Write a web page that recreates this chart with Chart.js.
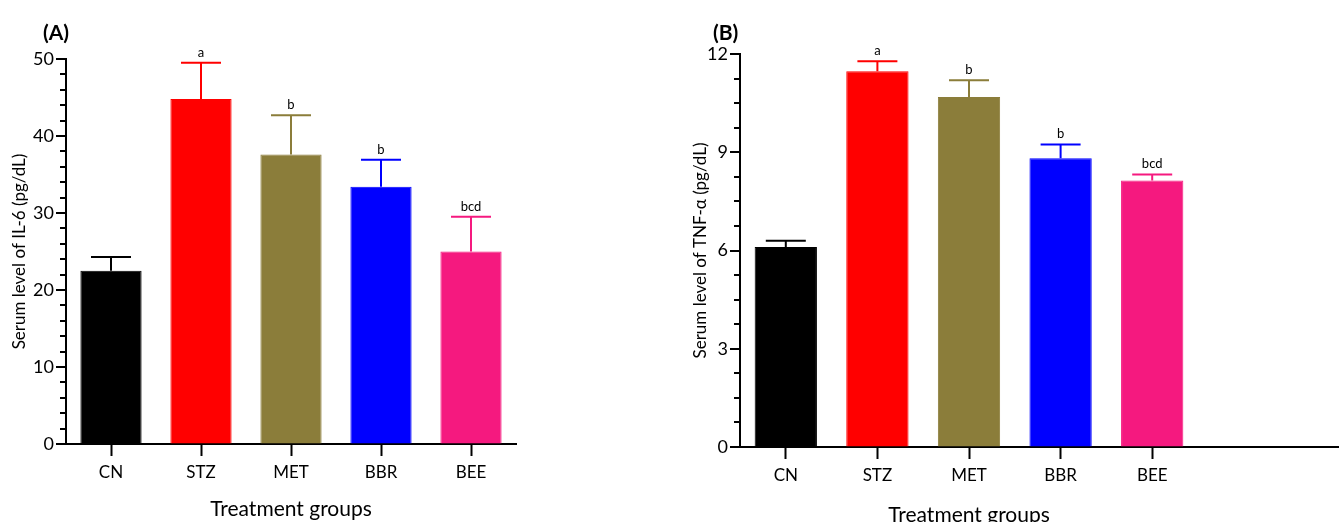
<!DOCTYPE html>
<html>
<head>
<meta charset="utf-8">
<script src="https://cdn.jsdelivr.net/npm/chart.js@4"></script>
<style>
  html, body { margin: 0; padding: 0; background: #fff; }
  #wrapA { position: absolute; left: 0; top: 0; width: 540px; height: 522px; }
  #wrapB { position: absolute; left: 670px; top: 0; width: 669px; height: 522px; }
</style>
</head>
<body>
<div id="wrapA"><canvas id="chartA"></canvas></div>
<div id="wrapB"><canvas id="chartB"></canvas></div>
<script>
const grupos = ['CN', 'STZ', 'MET', 'BBR', 'BEE'];
const coloresBarras = ['#000000', '#ff0000', '#8b7d3a', '#0000ff', '#f5197f'];
const coloresError = ['#000000', '#ff0000', '#8b7d3a', '#0000ff', '#f5197f'];
const letras = ['', 'a', 'b', 'b', 'bcd'];

// IL-6 (pg/dL)
const il6Media = [22.5, 44.8, 37.6, 33.4, 25.0];
const il6Error = [1.8, 4.7, 5.1, 3.5, 4.5];

// TNF-alpha (pg/dL)
const tnfMedia = [6.11, 11.47, 10.69, 8.82, 8.14];
const tnfError = [0.19, 0.31, 0.51, 0.42, 0.18];

const fuente = "Lato, 'Open Sans', sans-serif";

function esMayor(v, mayor) {
    return Math.abs(v / mayor - Math.round(v / mayor)) < 1e-6;
}

// barras de error + letras + ticks menores + etiqueta del panel
const pluginExtras = {
    id: 'extras',
    afterDatasetsDraw(chart, args, opts) {
        const ctx = chart.ctx;
        const meta = chart.getDatasetMeta(0);
        const y = chart.scales.y;
        const ds = chart.data.datasets[0];
        ctx.save();
        meta.data.forEach((bar, i) => {
            const top = y.getPixelForValue(ds.data[i] + opts.errores[i]);
            const base = y.getPixelForValue(ds.data[i]);
            ctx.strokeStyle = coloresError[i];
            ctx.lineWidth = 2;
            ctx.beginPath();
            ctx.moveTo(bar.x, base);
            ctx.lineTo(bar.x, top);
            ctx.moveTo(bar.x - 20, top);
            ctx.lineTo(bar.x + 20, top);
            ctx.stroke();
            if (letras[i]) {
                ctx.fillStyle = '#000';
                ctx.font = "13px " + fuente;
                ctx.textAlign = 'center';
                ctx.textBaseline = 'bottom';
                ctx.fillText(letras[i], bar.x, top - 4);
            }
        });
        ctx.restore();
    },
    afterDraw(chart, args, opts) {
        const ctx = chart.ctx;
        const y = chart.scales.y;
        const x = chart.scales.x;
        const area = chart.chartArea;
        ctx.save();
        ctx.strokeStyle = '#000000';
        ctx.lineWidth = 2;
        ctx.beginPath();
        for (let v = y.min; v <= y.max + 1e-9; v += opts.paso) {
            const py = Math.round(y.getPixelForValue(v));
            const largo = esMayor(v, opts.mayor) ? 10 : 6;
            ctx.moveTo(area.left, py);
            ctx.lineTo(area.left - largo, py);
        }
        if (opts.extender) {
            ctx.moveTo(area.right, x.top);
            ctx.lineTo(chart.width, x.top);
        }
        ctx.stroke();
        ctx.fillStyle = '#000';
        ctx.font = "bold 21px " + fuente;
        ctx.textAlign = 'left';
        ctx.textBaseline = 'middle';
        ctx.fillText(opts.panel, opts.panelX, 33);
        ctx.restore();
    }
};

function crearGrafico(id, medias, errores, cfg) {
    return new Chart(document.getElementById(id), {
        type: 'bar',
        data: {
            labels: grupos,
            datasets: [{
                data: medias,
                backgroundColor: coloresBarras,
                borderColor: coloresBarras,
                borderWidth: 1,
                barPercentage: 0.68,
                categoryPercentage: 1.0
            }]
        },
        options: {
            responsive: true,
            maintainAspectRatio: false,
            animation: false,
            layout: { padding: { top: cfg.top, right: cfg.right, left: 0, bottom: 0 } },
            plugins: {
                legend: { display: false },
                tooltip: { enabled: false },
                extras: { errores: errores, mayor: cfg.mayor, paso: cfg.paso, panel: cfg.panel, panelX: cfg.panelX, extender: cfg.extender }
            },
            scales: {
                x: {
                    grid: { offset: false, drawOnChartArea: false, drawTicks: true, tickLength: 12, tickColor: '#000', tickWidth: 2 },
                    border: { display: true, color: '#000', width: 2 },
                    ticks: { color: '#000', font: { family: fuente, size: 17 }, padding: 6, maxRotation: 0 },
                    title: { display: true, text: 'Treatment groups', color: '#000', font: { family: fuente, size: 21 }, padding: { top: 14, bottom: cfg.xTitleBottom } },
                    afterFit: s => { s.height = cfg.xHeight; }
                },
                y: {
                    min: 0,
                    max: cfg.max,
                    grid: { drawOnChartArea: false, drawTicks: false },
                    border: { display: true, color: '#000', width: 2 },
                    ticks: {
                        stepSize: cfg.mayor,
                        autoSkip: false,
                        color: '#000',
                        font: { family: fuente, size: 18 },
                        padding: 12
                    },
                    title: { display: true, text: cfg.yTitulo, color: '#000', font: { family: fuente, size: 17 }, padding: { top: cfg.yTitleTop, bottom: 0 } },
                    afterFit: s => { s.width = cfg.yWidth; }
                }
            }
        },
        plugins: [pluginExtras]
    });
}

crearGrafico('chartA', il6Media, il6Error, {
    max: 50, paso: 2, mayor: 10, panel: '(A)', panelX: 43,
    top: 59, right: 24, xHeight: 78, yWidth: 66, xTitleBottom: 0, yTitleTop: 9,
    yTitulo: 'Serum level of IL-6 (pg/dL)', extender: false
});

crearGrafico('chartB', tnfMedia, tnfError, {
    max: 12, paso: 0.75, mayor: 3, panel: '(B)', panelX: 43,
    top: 54, right: 141, xHeight: 75, yWidth: 70, xTitleBottom: -6, yTitleTop: 20,
    yTitulo: 'Serum level of TNF-\u03b1 (pg/dL)', extender: true
});
</script>
</body>
</html>
